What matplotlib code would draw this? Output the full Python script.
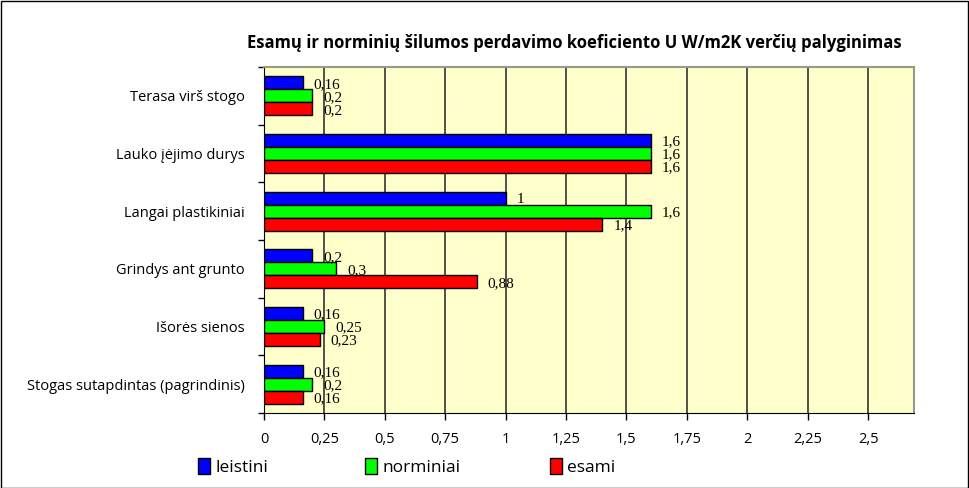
import matplotlib
matplotlib.use("Agg")
import matplotlib.pyplot as plt
import numpy as np
from matplotlib.patches import Patch, Rectangle
from matplotlib.ticker import FixedLocator, NullFormatter

categories = ["Terasa virš stogo", "Lauko įėjimo durys", "Langai plastikiniai",
              "Grindys ant grunto", "Išorės sienos", "Stogas sutapdintas (pagrindinis)"]
leistini = [0.16, 1.6, 1.0, 0.2, 0.16, 0.16]
norminiai = [0.2, 1.6, 1.6, 0.3, 0.25, 0.2]
esami = [0.2, 1.6, 1.4, 0.88, 0.23, 0.16]
series_names = ["leistini", "norminiai", "esami"]
xticks = [0, 0.25, 0.5, 0.75, 1, 1.25, 1.5, 1.75, 2, 2.25, 2.5]
title = "Esamų ir norminių šilumos perdavimo koeficiento U W/m2K verčių palyginimas"

colors = ["#0000FF", "#00FF00", "#FF0000"]

fig = plt.figure(figsize=(9.69, 4.88), dpi=100)
fig.patch.set_facecolor("white")
ax = fig.add_axes([264/969, 1-413/488, (914-264)/969, (413-67)/488])
ax.set_facecolor("#FFFFCC")

n = len(categories)
y = np.arange(n)[::-1]  # top category first
h = 0.225
offsets = [h, 0, -h]
sans = "Open Sans"
serif = "Liberation Serif"

def fmt(v):
    s = ("%g" % v).replace(".", ",")
    return s

for vals, off, c in zip([leistini, norminiai, esami], offsets, colors):
    ax.barh(y + off, vals, height=h, color=c, edgecolor="black", linewidth=1, zorder=3)
    for yi, v in zip(y, vals):
        ax.annotate(fmt(v), xy=(v, yi + off), xytext=(8, -1), textcoords="offset points",
                    va="center", ha="left", fontsize=11, family=serif, zorder=4)

ax.set_xlim(0, 2.69)
ax.set_ylim(-0.5, n - 0.5)
ax.set_xticks(xticks)
ax.set_xticklabels([fmt(t) for t in xticks], family=sans, fontsize=10.5)
ax.xaxis.grid(True, color="#333333", linewidth=1.2, zorder=1)
ax.set_axisbelow(True)
ax.set_yticks(y)
ax.set_yticklabels(categories, family=sans, fontsize=10.5)
ax.tick_params(axis="y", length=0, pad=14)
ax.yaxis.set_minor_locator(FixedLocator(np.arange(-0.5, n, 1.0)))
ax.yaxis.set_minor_formatter(NullFormatter())
ax.tick_params(axis="y", which="minor", length=4, width=1, color="black")
ax.tick_params(axis="x", length=5, width=1, pad=9)
for s in ["top", "right"]:
    ax.spines[s].set_color("#999988")
    ax.spines[s].set_linewidth(1.5)
ax.spines["left"].set_color("black")
ax.spines["bottom"].set_color("black")

fig.text(574/969, 1-43/488, title, ha="center", va="center", fontsize=12,
         fontweight="bold", family=sans)

legend_x = [198, 365, 550]
for name, c, lx in zip(series_names, colors, legend_x):
    fig.legend(handles=[Patch(facecolor=c, edgecolor="black", label=name)],
               loc="center left", bbox_to_anchor=(lx/969, 1-467/488), frameon=False,
               prop={"family": sans, "size": 12.5}, handlelength=0.7, handleheight=1.0,
               handletextpad=0.3, borderpad=0, borderaxespad=0)

fig.patches.append(Rectangle((0.5/969, 0.5/488), 1-1.5/969, 1-1.5/488, transform=fig.transFigure,
                             fill=False, edgecolor="black", linewidth=1))

fig.savefig("out.png", dpi=100)
